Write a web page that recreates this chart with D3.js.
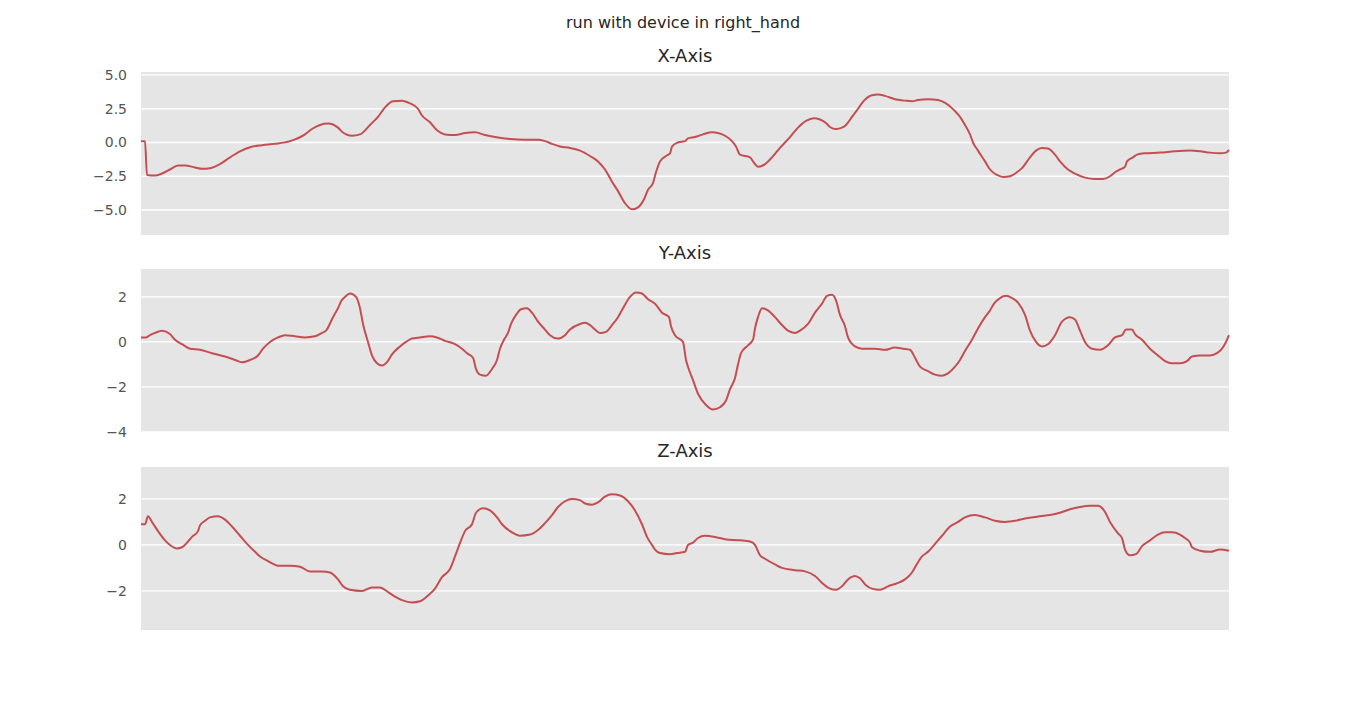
<!DOCTYPE html>
<html>
<head>
<meta charset="UTF-8">
<script src="https://cdn.jsdelivr.net/npm/d3@7"></script>
<style>
  body { margin:0; background:#fff; }
  text { font-family: "DejaVu Sans", sans-serif; }
</style>
</head>
<body>
<svg id="chart" width="1366" height="705"></svg>
<script>
// sample index, value pairs read from the recording
var xAxisData = [[0,0.1],[4,0.1],[6,-2.4],[14,-2.45],[21,-2.3],[29,-2.0],[37,-1.7],[44,-1.7],[54,-1.85],[61,-1.95],[69,-1.9],[79,-1.6],[89,-1.1],[99,-0.65],[109,-0.35],[121,-0.2],[134,-0.1],[149,0.1],[164,0.6],[171,1.0],[179,1.3],[187,1.4],[197,1.1],[201,0.8],[211,0.5],[219,0.6],[229,1.3],[237,1.9],[244,2.6],[252,3.05],[261,3.1],[269,2.9],[277,2.5],[281,2.0],[289,1.5],[296,0.9],[304,0.6],[314,0.55],[324,0.7],[334,0.75],[344,0.55],[354,0.4],[369,0.25],[384,0.2],[397,0.2],[404,0.1],[411,-0.1],[419,-0.3],[429,-0.4],[439,-0.6],[449,-1.0],[457,-1.4],[464,-2.0],[471,-2.9],[477,-3.6],[484,-4.5],[491,-4.95],[497,-4.8],[503,-4.2],[507,-3.5],[512,-3.0],[515,-2.2],[519,-1.4],[525,-1.0],[529,-0.8],[531,-0.3],[537,0.0],[544,0.1],[547,0.3],[554,0.4],[562,0.6],[571,0.75],[577,0.7],[584,0.5],[591,0.1],[595,-0.3],[599,-0.9],[609,-1.1],[613,-1.5],[617,-1.8],[624,-1.6],[631,-1.1],[639,-0.4],[649,0.4],[657,1.1],[665,1.6],[673,1.8],[679,1.7],[685,1.45],[689,1.15],[695,1.0],[701,1.1],[705,1.3],[711,1.9],[717,2.5],[723,3.1],[731,3.5],[737,3.55],[744,3.45],[754,3.2],[764,3.1],[771,3.05],[777,3.15],[787,3.2],[797,3.15],[805,2.9],[813,2.4],[819,1.9],[824,1.3],[829,0.6],[832,0.0],[837,-0.6],[844,-1.4],[849,-2.0],[856,-2.4],[862,-2.55],[869,-2.5],[876,-2.2],[881,-1.9],[889,-1.1],[895,-0.6],[901,-0.4],[907,-0.45],[914,-0.9],[919,-1.4],[927,-2.0],[934,-2.3],[944,-2.6],[954,-2.7],[962,-2.7],[969,-2.5],[974,-2.2],[979,-2.0],[984,-1.8],[986,-1.4],[992,-1.1],[996,-0.9],[1004,-0.8],[1019,-0.75],[1034,-0.65],[1049,-0.6],[1059,-0.65],[1069,-0.75],[1079,-0.8],[1085,-0.75],[1088,-0.55]];

var yAxisData = [[0,0.2],[5,0.2],[9,0.3],[14,0.4],[21,0.5],[29,0.35],[34,0.1],[41,-0.1],[49,-0.3],[59,-0.35],[71,-0.5],[84,-0.65],[94,-0.8],[101,-0.9],[109,-0.8],[117,-0.6],[122,-0.3],[129,0.0],[137,0.2],[144,0.3],[154,0.25],[164,0.2],[174,0.25],[181,0.4],[185,0.5],[192,1.1],[197,1.5],[200,1.8],[204,2.0],[209,2.15],[215,2.0],[219,1.5],[222,0.8],[227,0.0],[231,-0.6],[236,-0.95],[241,-1.05],[246,-0.9],[251,-0.55],[259,-0.2],[265,0.0],[271,0.15],[279,0.2],[289,0.25],[296,0.2],[304,0.05],[314,-0.1],[321,-0.3],[326,-0.5],[332,-0.7],[335,-1.2],[339,-1.45],[345,-1.5],[351,-1.2],[356,-0.8],[359,-0.3],[363,0.1],[367,0.4],[370,0.8],[375,1.2],[380,1.45],[386,1.5],[391,1.3],[397,0.9],[404,0.55],[409,0.3],[417,0.15],[424,0.3],[429,0.55],[439,0.8],[444,0.85],[449,0.75],[454,0.55],[459,0.4],[465,0.45],[471,0.75],[477,1.1],[482,1.5],[489,2.0],[495,2.2],[501,2.15],[507,1.9],[514,1.7],[521,1.3],[528,1.1],[530,0.7],[534,0.3],[542,0.0],[545,-0.8],[547,-1.1],[552,-1.7],[557,-2.3],[565,-2.8],[572,-3.0],[579,-2.9],[585,-2.6],[589,-2.1],[594,-1.6],[597,-1.0],[600,-0.5],[607,-0.15],[612,0.1],[614,0.6],[617,1.1],[621,1.5],[627,1.4],[634,1.1],[641,0.75],[647,0.5],[654,0.4],[659,0.5],[667,0.8],[674,1.3],[681,1.7],[686,2.05],[691,2.1],[695,1.85],[699,1.2],[704,0.7],[707,0.2],[714,-0.2],[721,-0.3],[734,-0.3],[744,-0.35],[754,-0.25],[762,-0.3],[769,-0.35],[774,-0.7],[779,-1.1],[787,-1.3],[794,-1.45],[801,-1.5],[807,-1.4],[814,-1.1],[819,-0.8],[824,-0.4],[831,0.1],[837,0.6],[844,1.1],[849,1.4],[853,1.7],[859,1.95],[865,2.05],[871,1.95],[877,1.75],[884,1.2],[889,0.5],[895,0.0],[901,-0.2],[907,-0.1],[914,0.3],[921,0.9],[929,1.1],[934,1.0],[939,0.5],[944,0.0],[951,-0.3],[959,-0.35],[967,-0.15],[974,0.2],[981,0.3],[985,0.55],[991,0.55],[994,0.35],[1001,0.1],[1009,-0.3],[1017,-0.6],[1024,-0.85],[1031,-0.95],[1039,-0.95],[1046,-0.85],[1051,-0.65],[1059,-0.6],[1069,-0.6],[1076,-0.5],[1081,-0.3],[1085,0.0],[1088,0.3]];

var zAxisData = [[0,0.9],[4,0.9],[7,1.25],[11,1.0],[17,0.6],[24,0.2],[29,0.0],[36,-0.15],[41,-0.1],[47,0.15],[51,0.35],[57,0.6],[59,0.85],[64,1.05],[69,1.2],[77,1.25],[84,1.1],[91,0.8],[99,0.4],[107,0.0],[114,-0.3],[119,-0.5],[127,-0.7],[137,-0.9],[149,-0.9],[159,-0.95],[169,-1.15],[181,-1.15],[189,-1.2],[197,-1.5],[202,-1.8],[209,-1.95],[221,-2.0],[231,-1.85],[239,-1.85],[247,-2.05],[254,-2.25],[261,-2.4],[271,-2.5],[279,-2.45],[287,-2.2],[294,-1.9],[301,-1.4],[309,-1.05],[314,-0.5],[320,0.2],[324,0.6],[331,0.9],[335,1.4],[342,1.6],[349,1.5],[356,1.2],[361,0.9],[371,0.55],[379,0.4],[389,0.45],[397,0.65],[404,0.95],[411,1.3],[417,1.65],[424,1.9],[431,2.0],[439,1.95],[444,1.8],[451,1.75],[457,1.85],[464,2.1],[471,2.2],[479,2.15],[487,1.9],[494,1.5],[501,0.9],[506,0.35],[511,0.0],[514,-0.2],[519,-0.35],[529,-0.4],[536,-0.35],[544,-0.3],[547,0.0],[552,0.1],[557,0.3],[564,0.4],[574,0.35],[584,0.25],[599,0.2],[609,0.15],[614,0.0],[619,-0.45],[624,-0.6],[634,-0.85],[641,-1.0],[654,-1.1],[664,-1.15],[674,-1.35],[681,-1.65],[689,-1.9],[695,-1.95],[701,-1.8],[707,-1.5],[714,-1.35],[719,-1.45],[725,-1.75],[731,-1.9],[739,-1.95],[747,-1.8],[757,-1.65],[764,-1.5],[771,-1.2],[775,-0.9],[781,-0.5],[787,-0.3],[794,0.05],[801,0.4],[809,0.8],[817,1.0],[824,1.2],[834,1.3],[844,1.2],[854,1.05],[864,1.0],[874,1.05],[884,1.15],[899,1.25],[909,1.3],[919,1.4],[929,1.55],[939,1.65],[949,1.7],[957,1.7],[963,1.5],[969,1.0],[977,0.5],[981,0.3],[984,-0.2],[989,-0.45],[995,-0.4],[1001,-0.05],[1009,0.2],[1017,0.45],[1024,0.55],[1031,0.55],[1039,0.45],[1044,0.3],[1049,0.1],[1051,-0.1],[1059,-0.25],[1069,-0.3],[1079,-0.2],[1088,-0.25]];

var panels = [
  {title: "X-Axis", data: xAxisData, domain: [-6.85, 5.22], ticks: [-5, -2.5, 0, 2.5, 5], fmt: d3.format(".1f")},
  {title: "Y-Axis", data: yAxisData, domain: [-4, 3.24], ticks: [-4, -2, 0, 2], fmt: d3.format("d")},
  {title: "Z-Axis", data: zAxisData, domain: [-3.7, 3.39], ticks: [-2, 0, 2], fmt: d3.format("d")}
];

var svg = d3.select("#chart");
var left = 141, right = 1229, panelH = 163, tops = [72, 269, 467];

svg.append("text").attr("x", 683).attr("y", 28).attr("text-anchor", "middle")
  .attr("font-size", 16).attr("fill", "#262626").text("run with device in right_hand");

var x = d3.scaleLinear().domain([0, 1088]).range([left, right]);

panels.forEach(function(p, i) {
  var top = tops[i];
  var y = d3.scaleLinear().domain(p.domain).range([top + panelH, top]);
  var g = svg.append("g");
  g.append("rect").attr("x", left).attr("y", top).attr("width", right - left)
    .attr("height", panelH).attr("fill", "#e5e5e5");
  g.selectAll(".grid").data(p.ticks).enter().append("line")
    .attr("x1", left).attr("x2", right)
    .attr("y1", function(d) { return y(d); }).attr("y2", function(d) { return y(d); })
    .attr("stroke", "#fff").attr("stroke-width", 1.3);
  var ax = g.append("g").attr("transform", "translate(" + left + ",0)")
    .call(d3.axisLeft(y).tickValues(p.ticks).tickSize(0).tickPadding(14)
      .tickFormat(function(d) { return p.fmt(d).replace("-", "\u2212"); }));
  ax.select(".domain").remove();
  ax.selectAll("text").attr("font-size", 14).attr("fill", "#555")
    .attr("font-family", "DejaVu Sans, sans-serif");
  g.append("text").attr("x", (left + right) / 2).attr("y", top - 10)
    .attr("text-anchor", "middle").attr("font-size", 18).attr("fill", "#262626").text(p.title);
  g.append("path").datum(p.data)
    .attr("d", d3.line().x(function(d) { return x(d[0]); }).y(function(d) { return y(d[1]); })
      .curve(d3.curveMonotoneX))
    .attr("fill", "none").attr("stroke", "#c44e52").attr("stroke-width", 2);
});
</script>
</body>
</html>
